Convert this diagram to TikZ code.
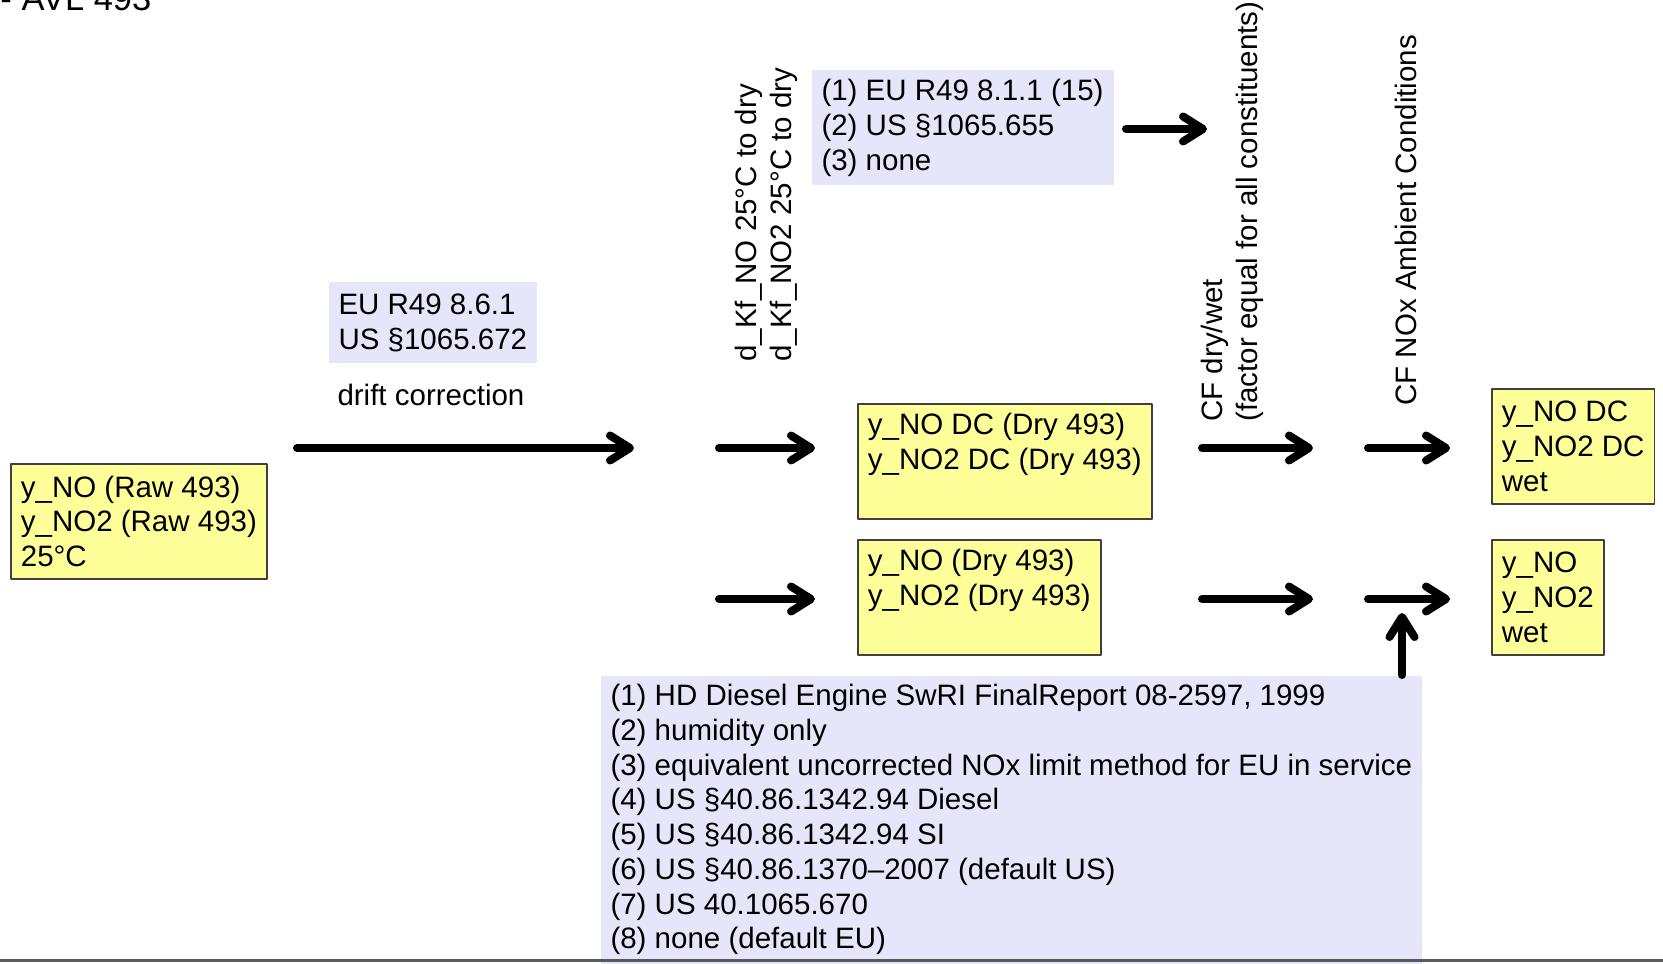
\documentclass[tikz,border=0pt]{standalone}
\usepackage{fontspec}
\setmainfont{Liberation Sans}
\usetikzlibrary{arrows.meta}
\definecolor{avInk}{HTML}{000000}
\definecolor{avFrame}{HTML}{404040}
\definecolor{avYellow}{HTML}{FFFF99}
\definecolor{avLav}{HTML}{E6E6FA}
\definecolor{avRule}{HTML}{595959}
\tikzset{
 sheet/.style={font=\fontsize{11.8pt}{13.9pt}\selectfont,line cap=round,line join=round},
 databox/.style={draw=avFrame,fill=avYellow,line width=.7pt,align=left,anchor=north west,
   inner xsep=4pt,inner ysep=3.5pt,minimum height=46pt},
 refbox/.style={fill=avLav,align=left,anchor=north west,inner xsep=4pt,inner ysep=3.5pt},
 sidelabel/.style={rotate=90,align=left,anchor=north west,inner sep=0pt},
 plainlabel/.style={anchor=west,inner sep=0pt},
 heading/.style={font=\fontsize{13.8pt}{16.5pt}\selectfont,anchor=base west,inner sep=0pt},
 flow/.style={draw=avInk,line width=3.2pt,-{Straight Barb[length=8pt,width=10pt,round]}},
 footrule/.style={draw=avRule,line width=1.2pt,line cap=butt}
}
\begin{document}
\begin{tikzpicture}[sheet,x=.4pt,y=-.4pt]
 \useasboundingbox (0,0) rectangle (1663,964);
 \node[heading] (title) at (0,11) {- AVL 493};
 \node[databox] (raw) at (10,463) {y\_NO (Raw 493)\\y\_NO2 (Raw 493)\\25°C};
 \node[refbox,minimum height=32.2pt] (drift) at (328,282) {EU R49 8.6.1\\US §1065.672};
 \node[plainlabel] (driftlbl) at (337,395) {drift correction};
 \node[sidelabel] (kflbl) at (735,362) {d\_Kf\_NO 25°C to dry\\d\_Kf\_NO2 25°C to dry};
 \node[refbox,minimum height=46pt] (kfref) at (811,70) {(1) EU R49 8.1.1 (15)\\(2) US §1065.655\\(3) none};
 \node[databox] (drydc) at (857,403) {y\_NO DC (Dry 493)\\y\_NO2 DC (Dry 493)\\\vphantom{(}};
 \node[databox] (dry) at (857,539) {y\_NO (Dry 493)\\y\_NO2 (Dry 493)\\\vphantom{(}};
 \node[sidelabel] (cflbl) at (1201,422) {CF dry/wet\\(factor equal for all constituents)};
 \node[sidelabel] (amblbl) at (1395,406) {CF NOx Ambient Conditions};
 \node[databox] (wetdc) at (1491,388) {y\_NO DC\\y\_NO2 DC\\wet};
 \node[databox] (wet) at (1491,539) {y\_NO\\y\_NO2\\wet};
 \node[refbox] (ambref) at (600,675) {(1) HD Diesel Engine SwRI FinalReport 08-2597, 1999\\
   (2) humidity only\\
   (3) equivalent uncorrected NOx limit method for EU in service\\
   (4) US §40.86.1342.94 Diesel\\
   (5) US §40.86.1342.94 SI\\
   (6) US §40.86.1370--2007 (default US)\\
   (7) US 40.1065.670\\
   (8) none (default EU)};
 \coordinate (driftA) at (297,448);  \coordinate (driftB) at (634,448);
 \coordinate (kfA) at (719,448);     \coordinate (kfB) at (815,448);
 \coordinate (kfC) at (719,599);     \coordinate (kfD) at (815,599);
 \coordinate (refA) at (1126,129);   \coordinate (refB) at (1207,129);
 \coordinate (cfA) at (1202,448);    \coordinate (cfB) at (1313,448);
 \coordinate (cfC) at (1202,599);    \coordinate (cfD) at (1313,599);
 \coordinate (ambA) at (1368,448);   \coordinate (ambB) at (1450,448);
 \coordinate (ambC) at (1368,599);   \coordinate (ambD) at (1450,599);
 \coordinate (ambUp) at (1402,613);
 \draw[flow] (driftA) -- (driftB);
 \draw[flow] (kfA) -- (kfB);
 \draw[flow] (kfC) -- (kfD);
 \draw[flow] (refA) -- (refB);
 \draw[flow] (cfA) -- (cfB);
 \draw[flow] (cfC) -- (cfD);
 \draw[flow] (ambA) -- (ambB);
 \draw[flow] (ambC) -- (ambD);
 \draw[flow] (ambUp |- ambref.north) -- (ambUp);
 \draw[footrule] (0,960) -- (1663,960);
\end{tikzpicture}
\end{document}
